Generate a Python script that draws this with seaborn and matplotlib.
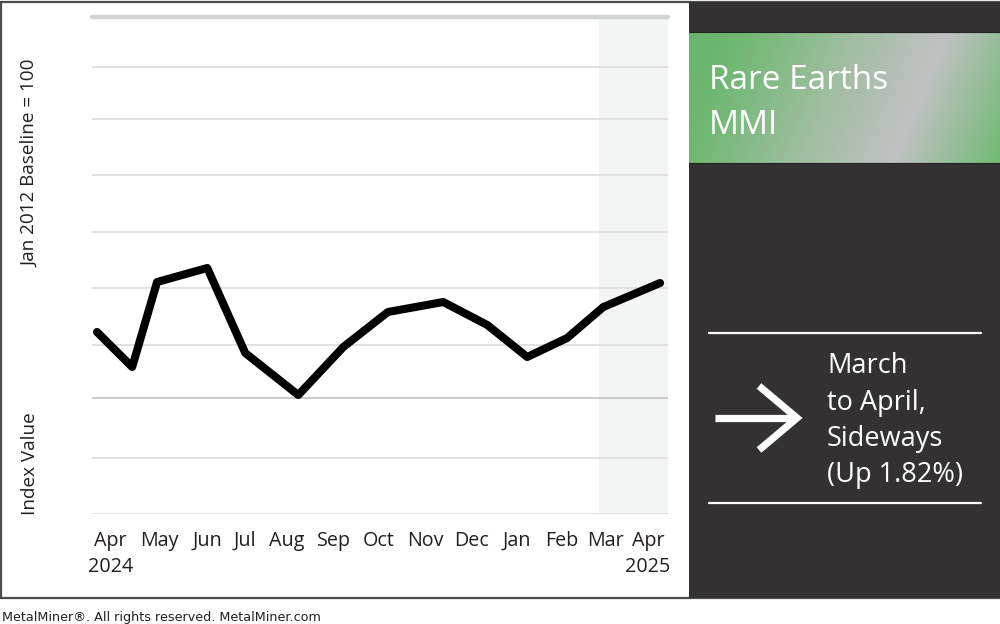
import numpy as np
import pandas as pd
import matplotlib
matplotlib.use("Agg")
import matplotlib.pyplot as plt
import seaborn as sns
from matplotlib.patches import Rectangle
from matplotlib.lines import Line2D

# ---------------- data ----------------
# x: months since Apr 2024 (fractional)
month_pos = [0.0, 0.75, 1.28, 2.35, 3.16, 4.29, 5.25, 6.20, 7.38, 8.32, 9.17, 10.02, 10.79, 12.0]
index_val = [32.96, 26.62, 42.01, 44.55, 29.15, 21.55, 30.24, 36.58, 38.39, 34.22, 28.43, 31.87, 37.48, 41.83]

tick_pos = [0.28, 1.34, 2.35, 3.16, 4.05, 5.05, 6.01, 6.99, 7.99, 8.95, 9.91, 10.83, 11.74]
tick_labels = ["Apr\n2024", "May", "Jun", "Jul", "Aug", "Sep", "Oct", "Nov", "Dec",
               "Jan", "Feb", "Mar", "Apr\n2025"]
grid_levels = [0, 10.1, 21.0, 30.6, 40.9, 51.1, 61.4, 71.5, 80.9]
top_level = 90
highlight_start = 10.70

title_lines = ["Rare Earths", "MMI"]
change_lines = ["March", "to April,", "Sideways", "(Up 1.82%)"]
y_label_top = "Jan 2012 Baseline = 100"
y_label_bottom = "Index Value"
footer = "MetalMiner\u00ae. All rights reserved. MetalMiner.com"

df = pd.DataFrame({"month": month_pos, "value": index_val})

# ---------------- figure ----------------
sns.set_theme(style="white")
plt.rcParams["font.family"] = ["Open Sans", "DejaVu Sans"]

W, H = 1000, 624
fig = plt.figure(figsize=(W / 100, H / 100), dpi=100, facecolor="white")

# background/overlay axes in pixel coordinates
bg = fig.add_axes([0, 0, 1, 1], zorder=0)
bg.axis("off")

# outer frame
bg.add_patch(Rectangle((0.8, 2), W - 1.6, 596, facecolor="white", edgecolor="#4d4d4d", lw=1.6, zorder=0))
# dark right panel
bg.add_patch(Rectangle((689, 2), W - 689, 596, facecolor="#333132", edgecolor="none", zorder=1))

# green gradient box
bx0, bx1, by0, by1 = 689, 1000, 32, 163
nx, ny = 311, 131
xs = np.arange(nx)[None, :].astype(float)
yfrac = 1 - (np.arange(ny) / (ny - 1))[:, None]  # 1 at top row
u = xs - 54 * yfrac
u_pts = [-54, 0, 110, 204, 311]
cols = np.array([[104, 181, 108], [112, 184, 116], [160, 190, 160], [192, 193, 194], [112, 186, 116]]) / 255.0
img = np.zeros((ny, nx, 3))
for c in range(3):
    img[:, :, c] = np.interp(u, u_pts, cols[:, c])
bg.imshow(img, extent=[bx0, bx1, by1, by0], aspect="auto", zorder=2, interpolation="bilinear")
bg.add_line(Line2D([bx0, bx1], [by0, by0], color="#222222", lw=0.8, zorder=3))
bg.add_line(Line2D([bx0, bx1], [by1, by1], color="#222222", lw=0.8, zorder=3))
bg.set_xlim(0, W)
bg.set_ylim(H, 0)

bg.text(709, 89, title_lines[0], color="white", fontsize=24, ha="left", va="baseline", zorder=4)
bg.text(709, 134, title_lines[1], color="white", fontsize=24, ha="left", va="baseline", zorder=4)

# white separator lines
bg.add_line(Line2D([709, 981], [333, 333], color="white", lw=1.6, zorder=4))
bg.add_line(Line2D([709, 981], [503, 503], color="white", lw=1.6, zorder=4))

# arrow
bg.add_line(Line2D([715, 794], [418, 418], color="white", lw=5.2, solid_capstyle="butt", zorder=4))
bg.add_line(Line2D([759, 797, 759], [386, 418, 450], color="white", lw=5.2,
                   solid_capstyle="butt", solid_joinstyle="miter", zorder=4))

for t, yy in zip(change_lines, [373, 410, 446, 482]):
    bg.text(827, yy, t, color="white", fontsize=19.5, ha="left", va="baseline", zorder=4)

# y labels
bg.text(30, 163, y_label_top, rotation=90, color="#231f20", fontsize=13.6, ha="center", va="center")
bg.text(30, 464, y_label_bottom, rotation=90, color="#231f20", fontsize=13.6, ha="center", va="center")

# footer
bg.text(2, 617, footer, color="#231f20", fontsize=9.2, ha="left", va="center", family="DejaVu Sans")

# ---------------- main line chart ----------------
px_l, px_r, py_t, py_b = 92, 668, 17, 514
ax = fig.add_axes([px_l / W, 1 - py_b / H, (px_r - px_l) / W, (py_b - py_t) / H], zorder=5)
ax.set_facecolor("none")
x_scale = 46.92
ax.set_xlim((px_l - 97) / x_scale, (px_r - 97) / x_scale)
ax.set_ylim(0, top_level)

ax.axvspan(highlight_start, (px_r - 97) / x_scale, color="#f3f5f4", zorder=0, lw=0)
for g in grid_levels:
    col = "#c6c6c6" if abs(g - 21.0) < 0.01 else "#dedede"
    ax.axhline(g, color=col, lw=1.3, zorder=1)
ax.axhline(top_level, color="#d1d3d4", lw=3.2, zorder=1, clip_on=False)

sns.lineplot(data=df, x="month", y="value", ax=ax, color="black", linewidth=5.8,
             solid_capstyle="round", zorder=3)

ax.set_xticks(tick_pos)
ax.set_xticklabels(tick_labels, fontsize=14.2, color="#231f20", linespacing=1.4)
ax.set_yticks([])
ax.tick_params(axis="x", length=0, pad=12)
ax.set_xlabel("")
ax.set_ylabel("")
for s in ax.spines.values():
    s.set_visible(False)

fig.savefig("out.png", dpi=100, facecolor="white")
